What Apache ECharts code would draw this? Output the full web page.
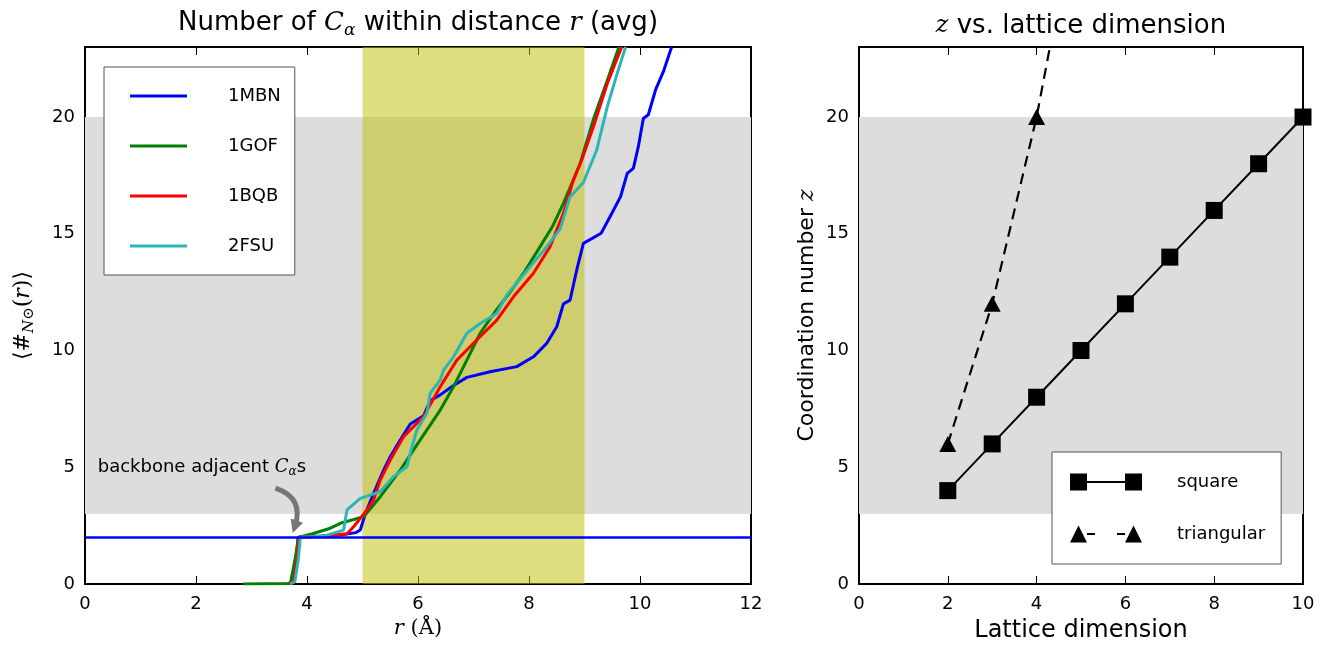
<!DOCTYPE html>
<html>
<head>
<meta charset="utf-8">
<script src="https://cdn.jsdelivr.net/npm/echarts@6/dist/echarts.min.js"></script>
<style>
  html, body { margin: 0; padding: 0; background: #fff; }
  #main { width: 1326px; height: 651px; }
</style>
</head>
<body>
<div id="main"></div>
<script>
// --- left panel: number of C-alpha within distance r
var mbn = [[3.65,0],[3.74,0.1],[3.8,1.0],[3.84,2.0],[4.2,2.05],[4.6,2.1],[4.88,2.2],[4.96,2.31],
  [5.05,3.0],[5.2,3.88],[5.38,4.88],[5.5,5.45],[5.68,6.17],[5.86,6.85],[6.1,7.2],[6.22,7.85],
  [6.4,8.1],[6.64,8.5],[6.88,8.85],[7.3,9.09],[7.78,9.31],[8.08,9.73],[8.32,10.31],[8.5,11.02],
  [8.62,12.0],[8.74,12.16],[8.86,13.45],[8.98,14.59],[9.3,15.02],[9.46,15.73],[9.65,16.59],
  [9.77,17.59],[9.88,17.8],[9.97,18.73],[10.06,19.94],[10.15,20.1],[10.28,21.16],[10.43,22.0],[10.57,23.0]];
var gof = [[2.85,0],[3.7,0.02],[3.78,1.0],[3.85,2.0],[4.1,2.15],[4.42,2.39],[4.6,2.6],[5.02,2.88],
  [5.32,3.74],[5.68,4.88],[6.04,6.17],[6.4,7.45],[6.64,8.45],[6.88,9.59],[7.12,10.74],[7.4,11.7],
  [7.66,12.5],[7.9,13.3],[8.2,14.45],[8.42,15.3],[8.62,16.3],[8.92,18.0],[9.16,19.9],[9.4,21.5],[9.62,23.0]];
var bqb = [[3.68,0],[3.76,0.1],[3.82,1.0],[3.86,2.0],[4.3,2.05],[4.72,2.15],[4.84,2.45],[5.08,3.17],
  [5.2,3.6],[5.32,4.45],[5.5,5.31],[5.74,6.31],[6.1,7.17],[6.4,8.45],[6.7,9.59],[7.0,10.31],
  [7.42,11.3],[7.72,12.3],[8.08,13.31],[8.38,14.45],[8.62,15.88],[8.8,17.3],[8.95,18.16],
  [9.16,19.58],[9.41,21.44],[9.67,23.0]];
var fsu = [[3.7,0],[3.78,0.1],[3.84,1.0],[3.88,2.0],[4.3,2.05],[4.66,2.31],[4.72,3.17],[4.96,3.67],
  [5.32,3.95],[5.56,4.6],[5.8,5.02],[5.86,5.6],[5.98,6.6],[6.16,7.31],[6.22,8.17],[6.4,8.74],
  [6.46,9.16],[6.64,9.73],[6.88,10.74],[7.12,11.16],[7.42,11.59],[7.6,12.38],[8.02,13.59],
  [8.32,14.45],[8.56,15.2],[8.74,16.59],[8.98,17.2],[9.22,18.59],[9.41,20.44],[9.59,21.87],[9.74,23.0]];

var greyBand = [3, 20];
var yellowBand = [5, 9];
var backboneLevel = 2;
var arrowFrom = [3.43, 4.11];
var arrowTo = [3.78, 2.45];
var notePos = [0.22, 5.0];

// --- right panel: coordination number vs lattice dimension
var latticeDim = [2, 3, 4, 5, 6, 7, 8, 9, 10];
var squareZ = [4, 6, 8, 10, 12, 14, 16, 18, 20];
var triDim = [2, 3, 4, 5];
var triZ = [6, 12, 20, 30];

var SANS = "'DejaVu Sans', sans-serif";
var SERIF = "'DejaVu Serif', serif";

function zip(xs, ys) {
  return xs.map(function (x, i) { return [x, ys[i]]; });
}

function frameAxis(grid, min, max, interval, position, extra) {
  var ax = {
    gridIndex: grid,
    type: 'value',
    min: min,
    max: max,
    interval: interval,
    position: position,
    axisLine: { show: true, onZero: false, lineStyle: { color: '#000', width: 2 } },
    axisTick: { show: true, inside: true, length: 8, lineStyle: { color: '#000', width: 1 } },
    axisLabel: { show: false },
    splitLine: { show: false }
  };
  for (var k in extra) ax[k] = extra[k];
  return ax;
}

var tickLabel = { show: true, color: '#000', fontSize: 18, fontFamily: SANS, margin: 10, showMaxLabel: false };
var xTickLabel = { show: true, color: '#000', fontSize: 18, fontFamily: SANS, margin: 11 };

var leftTitle = {
  name: 'Number of {m|C}{s|α} within distance {m|r} (avg)',
  nameLocation: 'middle',
  nameGap: 8,
  nameTextStyle: {
    color: '#000', fontSize: 26, fontFamily: SANS, verticalAlign: 'bottom',
    rich: {
      m: { fontFamily: SERIF, fontStyle: 'italic', fontSize: 26 },
      s: { fontFamily: SERIF, fontStyle: 'italic', fontSize: 17, padding: [14, 0, 0, 0] }
    }
  }
};
var rightTitle = {
  name: '{m|z} vs. lattice dimension',
  nameLocation: 'middle',
  nameGap: 8,
  nameTextStyle: {
    color: '#000', fontSize: 26, fontFamily: SANS, verticalAlign: 'bottom',
    rich: { m: { fontFamily: SERIF, fontStyle: 'italic', fontSize: 24 } }
  }
};

var chart = echarts.init(document.getElementById('main'));

var option = {
  animation: false,
  backgroundColor: '#fff',
  grid: [
    { left: 85, right: 575, top: 47, bottom: 67, outerBoundsMode: 'none' },
    { left: 859, right: 23, top: 47, bottom: 67, outerBoundsMode: 'none' }
  ],
  xAxis: [
    frameAxis(0, 0, 12, 2, 'bottom', {
      axisLabel: xTickLabel,
      name: '{i|r} (Å)',
      nameLocation: 'middle',
      nameGap: 34,
      nameTextStyle: {
        color: '#000', fontSize: 21, fontFamily: SERIF,
        rich: { i: { fontFamily: SERIF, fontStyle: 'italic', fontSize: 21 } }
      }
    }),
    frameAxis(0, 0, 12, 2, 'top', leftTitle),
    frameAxis(1, 0, 10, 2, 'bottom', {
      axisLabel: xTickLabel,
      name: 'Lattice dimension',
      nameLocation: 'middle',
      nameGap: 35,
      nameTextStyle: { color: '#000', fontSize: 24, fontFamily: SANS }
    }),
    frameAxis(1, 0, 10, 2, 'top', rightTitle)
  ],
  yAxis: [
    frameAxis(0, 0, 23, 5, 'left', {
      axisLabel: tickLabel,
      name: '{a|⟨#}{s|N⊙}{a|(}{i|r}{a|)⟩}',
      nameLocation: 'middle',
      nameGap: 48,
      nameTextStyle: {
        color: '#000', fontSize: 22, fontFamily: SERIF,
        rich: {
          a: { fontFamily: SERIF, fontSize: 22 },
          i: { fontFamily: SERIF, fontStyle: 'italic', fontSize: 22 },
          s: { fontFamily: SERIF, fontStyle: 'italic', fontSize: 15, padding: [12, 0, 0, 0] }
        }
      }
    }),
    frameAxis(0, 0, 23, 5, 'right', {}),
    frameAxis(1, 0, 23, 5, 'left', {
      axisLabel: tickLabel,
      name: 'Coordination number {i|z}',
      nameLocation: 'middle',
      nameGap: 41,
      nameTextStyle: {
        color: '#000', fontSize: 22, fontFamily: SANS,
        rich: { i: { fontFamily: SERIF, fontStyle: 'italic', fontSize: 22 } }
      }
    }),
    frameAxis(1, 0, 23, 5, 'right', {})
  ],
  legend: [
    {
      data: ['1MBN', '1GOF', '1BQB', '2FSU'],
      orient: 'vertical',
      left: 104,
      top: 67,
      icon: 'rect',
      itemWidth: 57,
      itemHeight: 3,
      itemGap: 32,
      padding: [20, 14, 20, 26],
      backgroundColor: '#fff',
      borderColor: '#555',
      borderWidth: 1,
      borderRadius: 0,
      selectedMode: false,
      textStyle: { color: '#000', fontSize: 18, fontFamily: SANS, padding: [0, 0, 0, 36] }
    },
    {
      data: [
        { name: 'square', icon: 'path://M0,0h17v17h-17z M17,7.5h38v2h-38z M55,0h17v17h-17z' },
        { name: 'triangular', icon: 'path://M0,17L8.5,0L17,17z M17,7.5h8v2h-8z M47,7.5h8v2h-8z M55,17L63.5,0L72,17z' }
      ],
      orient: 'vertical',
      left: 1052,
      top: 452,
      itemWidth: 72,
      itemHeight: 17,
      itemGap: 34,
      padding: [21, 16, 21, 18],
      backgroundColor: '#fff',
      borderColor: '#555',
      borderWidth: 1,
      borderRadius: 0,
      selectedMode: false,
      textStyle: { color: '#000', fontSize: 18, fontFamily: SANS, padding: [0, 0, 0, 30] }
    }
  ],
  series: [
    {
      name: '1MBN', type: 'line', xAxisIndex: 0, yAxisIndex: 0,
      data: mbn, symbol: 'none', z: 3,
      lineStyle: { color: '#0000ff', width: 3 },
      itemStyle: { color: '#0000ff' },
      markArea: {
        silent: true,
        itemStyle: { color: '#dddddd' },
        data: [[{ yAxis: greyBand[0] }, { yAxis: greyBand[1] }]]
      },
      markLine: {
        silent: true,
        symbol: ['none', 'none'],
        label: { show: false },
        lineStyle: { color: '#0000ff', width: 2.5, type: 'solid' },
        data: [{ yAxis: backboneLevel }]
      }
    },
    {
      name: '1GOF', type: 'line', xAxisIndex: 0, yAxisIndex: 0,
      data: gof, symbol: 'none', z: 3,
      lineStyle: { color: '#007f00', width: 3 },
      itemStyle: { color: '#007f00' },
      markArea: {
        silent: true,
        itemStyle: { color: 'rgba(191,191,0,0.5)' },
        data: [[{ xAxis: yellowBand[0] }, { xAxis: yellowBand[1] }]]
      }
    },
    {
      name: '1BQB', type: 'line', xAxisIndex: 0, yAxisIndex: 0,
      data: bqb, symbol: 'none', z: 3,
      lineStyle: { color: '#ff0000', width: 3 },
      itemStyle: { color: '#ff0000' }
    },
    {
      name: '2FSU', type: 'line', xAxisIndex: 0, yAxisIndex: 0,
      data: fsu, symbol: 'none', z: 3,
      lineStyle: { color: '#2cb5b5', width: 3 },
      itemStyle: { color: '#2cb5b5' },
      markPoint: {
        silent: true,
        symbol: 'circle',
        symbolSize: 1,
        itemStyle: { color: 'rgba(0,0,0,0)' },
        label: {
          show: true,
          position: 'right',
          distance: 0,
          color: '#000',
          fontSize: 18,
          fontFamily: SANS,
          formatter: 'backbone adjacent {m|C}{s|α}s',
          rich: {
            m: { fontFamily: SERIF, fontStyle: 'italic', fontSize: 18 },
            s: { fontFamily: SERIF, fontStyle: 'italic', fontSize: 12, padding: [9, 0, 0, 0] }
          }
        },
        data: [{ coord: notePos }]
      }
    },
    {
      // curved annotation arrow
      type: 'lines', coordinateSystem: 'cartesian2d', xAxisIndex: 0, yAxisIndex: 0,
      silent: true, z: 4,
      symbol: ['none', 'triangle'],
      symbolSize: 13,
      lineStyle: { color: '#777', width: 5, opacity: 1, curveness: 0.5 },
      data: [{ coords: [arrowFrom, arrowTo] }]
    },
    {
      name: 'square', type: 'line', xAxisIndex: 2, yAxisIndex: 2,
      data: zip(latticeDim, squareZ),
      symbol: 'rect', symbolSize: 17, showSymbol: true, z: 3,
      lineStyle: { color: '#000', width: 2 },
      itemStyle: { color: '#000' },
      markArea: {
        silent: true,
        itemStyle: { color: '#dddddd' },
        data: [[{ yAxis: greyBand[0] }, { yAxis: greyBand[1] }]]
      }
    },
    {
      name: 'triangular', type: 'line', xAxisIndex: 2, yAxisIndex: 2,
      data: zip(triDim, triZ),
      symbol: 'triangle', symbolSize: [17, 16], showSymbol: true, z: 3,
      lineStyle: { color: '#000', width: 2.2, type: [11, 7] },
      itemStyle: { color: '#000' }
    }
  ]
};

chart.setOption(option);
</script>
</body>
</html>
